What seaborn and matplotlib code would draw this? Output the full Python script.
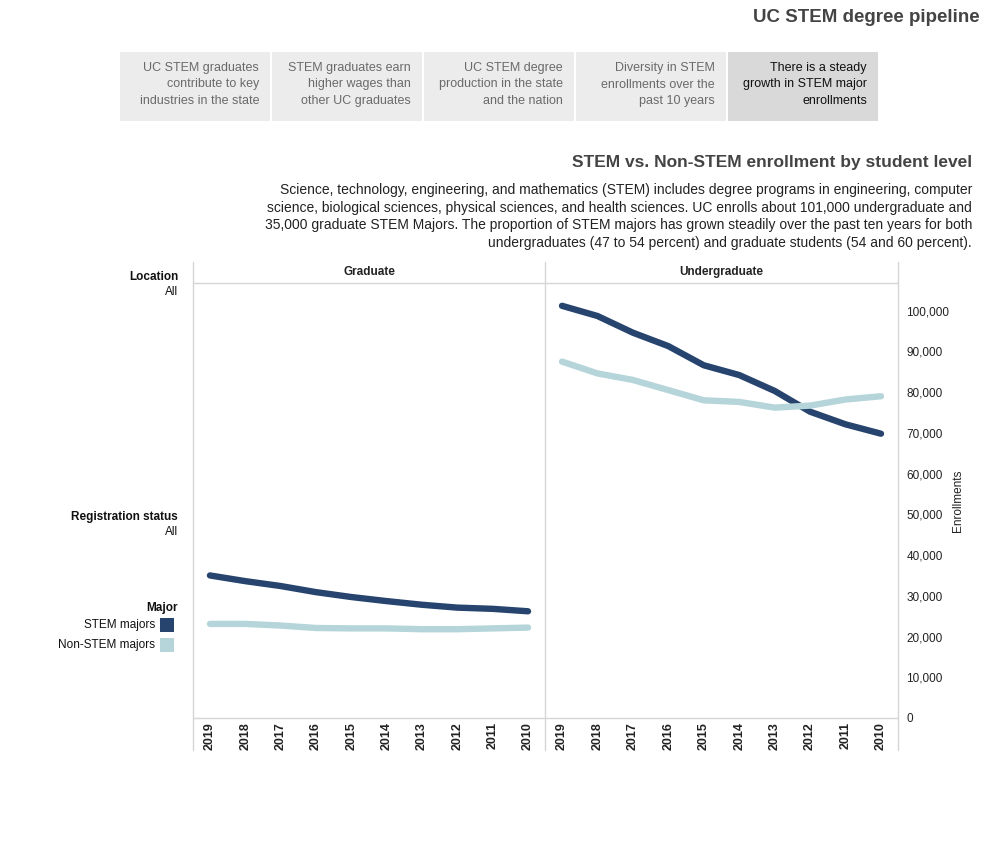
import matplotlib
matplotlib.use("Agg")
import matplotlib.pyplot as plt
from matplotlib.patches import Rectangle
from matplotlib.lines import Line2D
import seaborn as sns
import pandas as pd

# ---------------- data ----------------
years = [2010, 2011, 2012, 2013, 2014, 2015, 2016, 2017, 2018, 2019]
ug_stem = [69800, 72100, 75200, 80300, 84200, 86600, 91300, 94600, 98700, 101200]
ug_nonstem = [79000, 78200, 76700, 76200, 77600, 78000, 80500, 83000, 84600, 87500]
grad_stem = [26200, 26800, 27100, 27800, 28700, 29700, 30900, 32400, 33600, 35000]
grad_nonstem = [22200, 22000, 21800, 21800, 22000, 22000, 22100, 22700, 23100, 23100]
majors = ["STEM majors", "Non-STEM majors"]
levels = ["Graduate", "Undergraduate"]
y_ticks = [0, 10000, 20000, 30000, 40000, 50000, 60000, 70000, 80000, 90000, 100000]
y_tick_labels = ["0", "10,000", "20,000", "30,000", "40,000", "50,000",
                 "60,000", "70,000", "80,000", "90,000", "100,000"]
tab_texts = [
    "UC STEM graduates\ncontribute to key\nindustries in the state",
    "STEM graduates earn\nhigher wages than\nother UC graduates",
    "UC STEM degree\nproduction in the state\nand the nation",
    "Diversity in STEM\nenrollments over the\npast 10 years",
    "There is a steady\ngrowth in STEM major\nenrollments",
]
title = "UC STEM degree pipeline"
subtitle = "STEM vs. Non-STEM enrollment by student level"
paragraph = [
    "Science, technology, engineering, and mathematics (STEM) includes degree programs in engineering, computer",
    "science, biological sciences, physical sciences, and health sciences. UC enrolls about 101,000 undergraduate and",
    "35,000 graduate STEM Majors. The proportion of STEM majors has grown steadily over the past ten years for both",
    "undergraduates (47 to 54 percent) and graduate students (54 and 60 percent).",
]

df = pd.DataFrame({
    "Year": years * 4,
    "Enrollments": grad_stem + grad_nonstem + ug_stem + ug_nonstem,
    "Major": [majors[0]] * 10 + [majors[1]] * 10 + [majors[0]] * 10 + [majors[1]] * 10,
    "Level": [levels[0]] * 20 + [levels[1]] * 20,
})

# ---------------- style ----------------
sns.set_theme(style="white")
plt.rcParams["font.family"] = ["Liberation Sans", "DejaVu Sans"]
palette = {"STEM majors": "#27446e", "Non-STEM majors": "#b5d5da"}
grid_c = "#d6d6d6"

W, H = 1000, 850
fig = plt.figure(figsize=(10, 8.5), dpi=100)


def fx(x):
    return x / W


def fy(y):
    return 1 - y / H


# title
fig.text(fx(980), fy(17), title, ha="right", va="center", fontsize=13.5,
         fontweight="bold", color="#444444")

# tabs
tab_x = [120, 272, 424, 576, 728]
for i, (x0, t) in enumerate(zip(tab_x, tab_texts)):
    sel = i == len(tab_x) - 1
    fig.patches.append(Rectangle((fx(x0), fy(121)), fx(150), 69 / H,
                                 transform=fig.transFigure,
                                 facecolor="#d9d9d9" if sel else "#ececec",
                                 edgecolor="none"))
    fig.text(fx(x0 + 139), fy(84.5), t, ha="right", va="center", fontsize=9,
             linespacing=1.5, color="#111111" if sel else "#6a6a6a",
             multialignment="right")

# subtitle and paragraph
fig.text(fx(972), fy(162), subtitle, ha="right", va="center", fontsize=12.5,
         fontweight="bold", color="#444444")
for k, line in enumerate(paragraph):
    fig.text(fx(972), fy(190 + k * 17.7), line, ha="right", va="center",
             fontsize=10, color="#222222")

# panels (mirrored layout: Graduate on left, Undergraduate on right)
top, bot = 283, 718
ymax = 106800
panel_x = {"Graduate": (193, 545), "Undergraduate": (545, 898)}
axes = {}
for lev in levels:
    x0, x1 = panel_x[lev]
    ax = fig.add_axes([fx(x0), fy(bot), fx(x1 - x0), (bot - top) / H])
    sub = df[df["Level"] == lev]
    sns.lineplot(data=sub, x="Year", y="Enrollments", hue="Major",
                 hue_order=majors, palette=palette, linewidth=4.6,
                 legend=False, ax=ax, solid_capstyle="round")
    ax.set_xlim(2019.48, 2009.52)
    ax.set_ylim(0, ymax)
    ax.set_xticks(years)
    ax.set_xticklabels([str(y) for y in years], rotation=90, fontsize=9,
                       fontweight="bold", color="#222222")
    ax.tick_params(axis="x", length=0, pad=3)
    ax.set_xlabel("")
    ax.set_ylabel("")
    for s in ax.spines.values():
        s.set_visible(False)
    ax.set_facecolor("none")
    axes[lev] = ax
    fig.text(fx((x0 + x1) / 2), fy(272), lev, ha="center", va="center",
             fontsize=8.5, fontweight="bold", color="#222222")

axes["Graduate"].set_yticks([])
au = axes["Undergraduate"]
au.yaxis.tick_right()
au.set_yticks(y_ticks)
au.set_yticklabels(y_tick_labels, fontsize=8.5, color="#222222")
au.tick_params(axis="y", length=0, pad=6)
au.yaxis.set_label_position("right")
au.set_ylabel("Enrollments", fontsize=8.5, color="#222222", rotation=90,
              labelpad=2)
au.yaxis.label.set_position((1, 0.5))

# frame lines
for x in (193, 545, 898):
    fig.lines.append(Line2D([fx(x), fx(x)], [fy(262), fy(750)],
                            transform=fig.transFigure, color=grid_c, lw=1))
for y in (top, bot):
    fig.lines.append(Line2D([fx(193), fx(898)], [fy(y), fy(y)],
                            transform=fig.transFigure, color=grid_c, lw=1))

# legend / filter panel on the left
lx = 178
fig.text(fx(lx), fy(277), "Location", ha="right", va="center", fontsize=8.5,
         fontweight="bold", color="#111111")
fig.text(fx(lx), fy(292), "All", ha="right", va="center", fontsize=8.5,
         color="#111111")
fig.text(fx(lx), fy(517), "Registration status", ha="right", va="center",
         fontsize=8.5, fontweight="bold", color="#111111")
fig.text(fx(lx), fy(532), "All", ha="right", va="center", fontsize=8.5,
         color="#111111")
fig.text(fx(lx), fy(608), "Major", ha="right", va="center", fontsize=8.5,
         fontweight="bold", color="#111111")
for k, m in enumerate(majors):
    yc = 625 + k * 20
    fig.patches.append(Rectangle((fx(160), fy(yc + 7)), fx(14), 14 / H,
                                 transform=fig.transFigure,
                                 facecolor=palette[m], edgecolor="none"))
    fig.text(fx(155), fy(yc), m, ha="right", va="center", fontsize=8.5,
             color="#111111")

fig.savefig("out.png", dpi=100, facecolor="white")
